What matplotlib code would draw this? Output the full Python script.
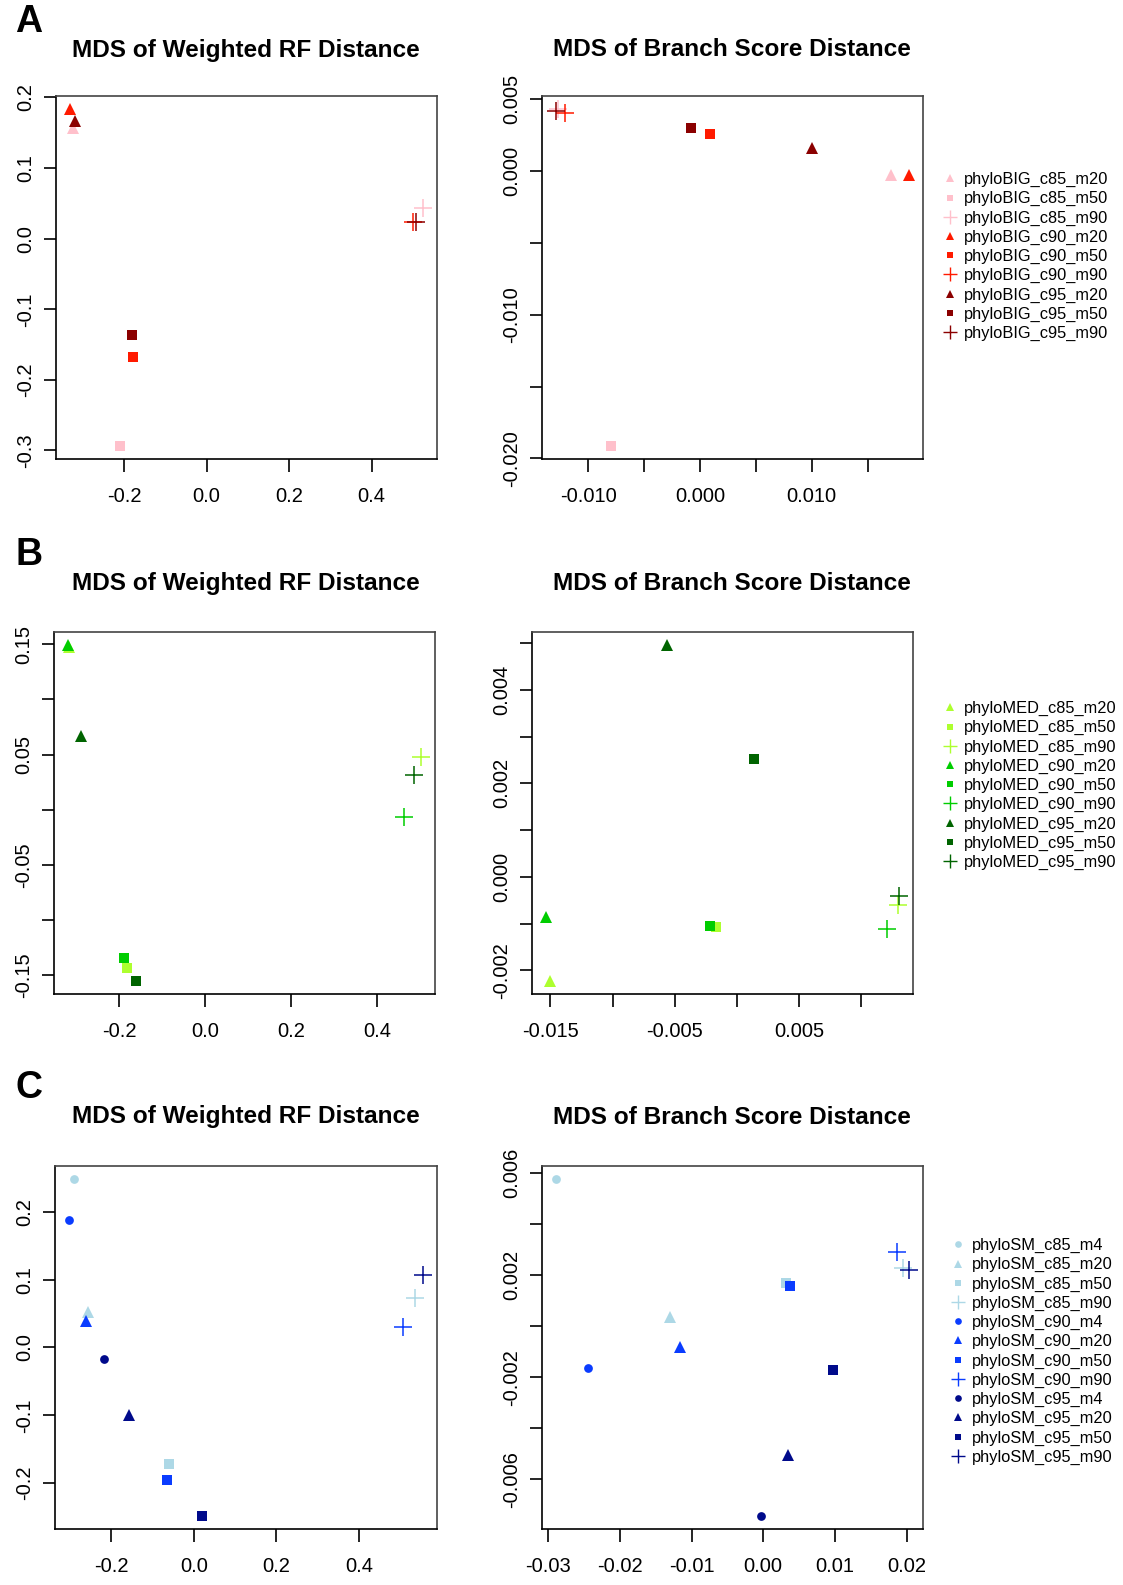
import matplotlib
matplotlib.use("Agg")
import matplotlib.pyplot as plt
from matplotlib.lines import Line2D

plt.rcParams['font.family'] = ['Liberation Sans', 'DejaVu Sans']

W, H = 1123, 1585

# ---- data ----
big_labels = ['phyloBIG_c85_m20', 'phyloBIG_c85_m50', 'phyloBIG_c85_m90',
              'phyloBIG_c90_m20', 'phyloBIG_c90_m50', 'phyloBIG_c90_m90',
              'phyloBIG_c95_m20', 'phyloBIG_c95_m50', 'phyloBIG_c95_m90']
big_rf_x = [-0.323, -0.209, 0.524, -0.331, -0.178, 0.500, -0.318, -0.180, 0.508]
big_rf_y = [0.157, -0.293, 0.044, 0.183, -0.168, 0.024, 0.167, -0.137, 0.024]
big_bs_x = [0.01714, -0.00795, -0.0127, 0.0187, 0.00093, -0.01205, 0.01006, -0.0008, -0.01288]
big_bs_y = [-0.00026, -0.0191, 0.0043, -0.00028, 0.00257, 0.00407, 0.00164, 0.00303, 0.00419]

med_labels = ['phyloMED_c85_m20', 'phyloMED_c85_m50', 'phyloMED_c85_m90',
              'phyloMED_c90_m20', 'phyloMED_c90_m50', 'phyloMED_c90_m90',
              'phyloMED_c95_m20', 'phyloMED_c95_m50', 'phyloMED_c95_m90']
med_rf_x = [-0.3156, -0.1807, 0.502, -0.3186, -0.1884, 0.4628, -0.289, -0.1605, 0.4868]
med_rf_y = [0.1475, -0.1437, 0.0476, 0.149, -0.1346, -0.007, 0.0672, -0.1549, 0.0319]
med_bs_x = [-0.0150, -0.00172, 0.01294, -0.01535, -0.00215, 0.01206, -0.00563, 0.00134, 0.01302]
med_bs_y = [-0.00222, -0.00107, -0.00061, -0.00087, -0.00105, -0.00112, 0.00495, 0.002525, -0.000405]

sm_labels = ['phyloSM_c85_m4', 'phyloSM_c85_m20', 'phyloSM_c85_m50', 'phyloSM_c85_m90',
             'phyloSM_c90_m4', 'phyloSM_c90_m20', 'phyloSM_c90_m50', 'phyloSM_c90_m90',
             'phyloSM_c95_m4', 'phyloSM_c95_m20', 'phyloSM_c95_m50', 'phyloSM_c95_m90']
sm_rf_x = [-0.2898, -0.2575, -0.0609, 0.5359, -0.3027, -0.2614, -0.0658, 0.5078,
           -0.2177, -0.1587, 0.0194, 0.5553]
sm_rf_y = [0.2477, 0.0518, -0.172, 0.0727, 0.1886, 0.0388, -0.195, 0.030,
           -0.0167, -0.099, -0.2478, 0.1063]
sm_bs_x = [-0.0289, -0.0130, 0.00319, 0.01953, -0.0244, -0.0116, 0.0037, 0.01861,
           -0.00036, 0.00347, 0.00972, 0.02033]
sm_bs_y = [0.00576, 0.00035, 0.0017, 0.00229, -0.00162, -0.00081, 0.00157, 0.0029,
           -0.00743, -0.00507, -0.0017, 0.00219]

big_cols = {'c85': '#FFC0CB', 'c90': '#FF1A00', 'c95': '#8B0000'}
med_cols = {'c85': '#ADFF2F', 'c90': '#00CD00', 'c95': '#006400'}
sm_cols = {'c85': '#ADD8E6', 'c90': '#0A3CFF', 'c95': '#000A8B'}

shapes = {'m4': 'o', 'm20': '^', 'm50': 's', 'm90': '+'}
msize = {'o': 6.3, '^': 8.4, 's': 6.8, '+': 12.5}
lsize = {'o': 4.8, '^': 6.3, 's': 5.0, '+': 9.5}


def style(name, cols):
    parts = name.split('_')
    return cols[parts[1]], shapes[parts[2]]


def rect(x0, x1, y0, y1):
    return [x0 / W, 1 - y1 / H, (x1 - x0) / W, (y1 - y0) / H]


def lims(v):
    lo, hi = min(v), max(v)
    pad = 0.04 * (hi - lo)
    return lo - pad, hi + pad


def panel(ax, labels, cols, xs, ys, xt, xl, yt, yl):
    for name, x, y in zip(labels, xs, ys):
        c, m = style(name, cols)
        if m == '+':
            ax.plot([x], [y], marker=m, color=c, markersize=msize[m],
                    markeredgewidth=1.1, linestyle='none')
        else:
            ax.plot([x], [y], marker=m, color=c, markersize=msize[m],
                    markeredgewidth=0, linestyle='none')
    ax.set_xlim(lims(xs))
    ax.set_ylim(lims(ys))
    ax.set_xticks(xt)
    ax.set_xticklabels(xl)
    ax.set_yticks(yt)
    ax.set_yticklabels(yl)
    ax.tick_params(length=9, width=1.2, direction='out', labelsize=14.5)
    ax.tick_params(axis='x', pad=11)
    ax.tick_params(axis='y', pad=6, labelrotation=90)
    for t in ax.get_yticklabels():
        t.set_va('center')
    for s in ax.spines.values():
        s.set_color('#444444')
        s.set_linewidth(1.2)
    ax.spines['left'].set_color('black')
    ax.spines['bottom'].set_color('black')


def legend(fig, labels, cols, x, y):
    handles = []
    for name in labels:
        c, m = style(name, cols)
        handles.append(Line2D([], [], marker=m, color=c, linestyle='none',
                              markersize=lsize[m], markeredgewidth=1.0 if m == '+' else 0))
    fig.legend(handles, labels, loc='upper left', bbox_to_anchor=(x / W, 1 - y / H),
               frameon=False, fontsize=11.8, handlelength=0.8, handletextpad=0.5,
               labelspacing=0.25, borderpad=0, borderaxespad=0)


fig = plt.figure(figsize=(W / 100, H / 100), dpi=100)

rf_x_ticks = [-0.2, 0.0, 0.2, 0.4]
rf_x_labels = ['-0.2', '0.0', '0.2', '0.4']

# A
ax = fig.add_axes(rect(56, 437, 96, 459))
panel(ax, big_labels, big_cols, big_rf_x, big_rf_y, rf_x_ticks, rf_x_labels,
      [-0.3, -0.2, -0.1, 0.0, 0.1, 0.2], ['-0.3', '-0.2', '-0.1', '0.0', '0.1', '0.2'])
ax = fig.add_axes(rect(542, 923, 96, 459))
panel(ax, big_labels, big_cols, big_bs_x, big_bs_y,
      [-0.010, -0.005, 0.0, 0.005, 0.010, 0.015], ['-0.010', '', '0.000', '', '0.010', ''],
      [-0.020, -0.015, -0.010, -0.005, 0.0, 0.005], ['-0.020', '', '-0.010', '', '0.000', '0.005'])
legend(fig, big_labels, big_cols, 943, 172)

# B
ax = fig.add_axes(rect(54, 435, 632, 994))
panel(ax, med_labels, med_cols, med_rf_x, med_rf_y, rf_x_ticks, rf_x_labels,
      [-0.15, -0.10, -0.05, 0.0, 0.05, 0.10, 0.15], ['-0.15', '', '-0.05', '', '0.05', '', '0.15'])
ax = fig.add_axes(rect(532, 913, 632, 994))
panel(ax, med_labels, med_cols, med_bs_x, med_bs_y,
      [-0.015, -0.010, -0.005, 0.0, 0.005, 0.010], ['-0.015', '', '-0.005', '', '0.005', ''],
      [-0.002, -0.001, 0.0, 0.001, 0.002, 0.003, 0.004, 0.005],
      ['-0.002', '', '0.000', '', '0.002', '', '0.004', ''])
legend(fig, med_labels, med_cols, 943, 701)

# C
ax = fig.add_axes(rect(55, 437, 1166, 1529))
panel(ax, sm_labels, sm_cols, sm_rf_x, sm_rf_y, rf_x_ticks, rf_x_labels,
      [-0.2, -0.1, 0.0, 0.1, 0.2], ['-0.2', '-0.1', '0.0', '0.1', '0.2'])
ax = fig.add_axes(rect(542, 923, 1166, 1529))
panel(ax, sm_labels, sm_cols, sm_bs_x, sm_bs_y,
      [-0.03, -0.02, -0.01, 0.0, 0.01, 0.02], ['-0.03', '-0.02', '-0.01', '0.00', '0.01', '0.02'],
      [-0.006, -0.004, -0.002, 0.0, 0.002, 0.004, 0.006],
      ['-0.006', '', '-0.002', '', '0.002', '', '0.006'])
legend(fig, sm_labels, sm_cols, 951, 1238)

# titles and panel letters
for y_title in [50, 583, 1117]:
    fig.text(246 / W, 1 - y_title / H, 'MDS of Weighted RF Distance', ha='center', va='center',
             fontsize=17.6, fontweight='bold')
    fig.text(732 / W, 1 - y_title / H, 'MDS of Branch Score Distance', ha='center', va='center',
             fontsize=17.6, fontweight='bold')
for letter, y in [('A', 22), ('B', 555), ('C', 1088)]:
    fig.text(29 / W, 1 - y / H, letter, ha='center', va='center', fontsize=27, fontweight='bold')

fig.savefig('out.png', dpi=100)
